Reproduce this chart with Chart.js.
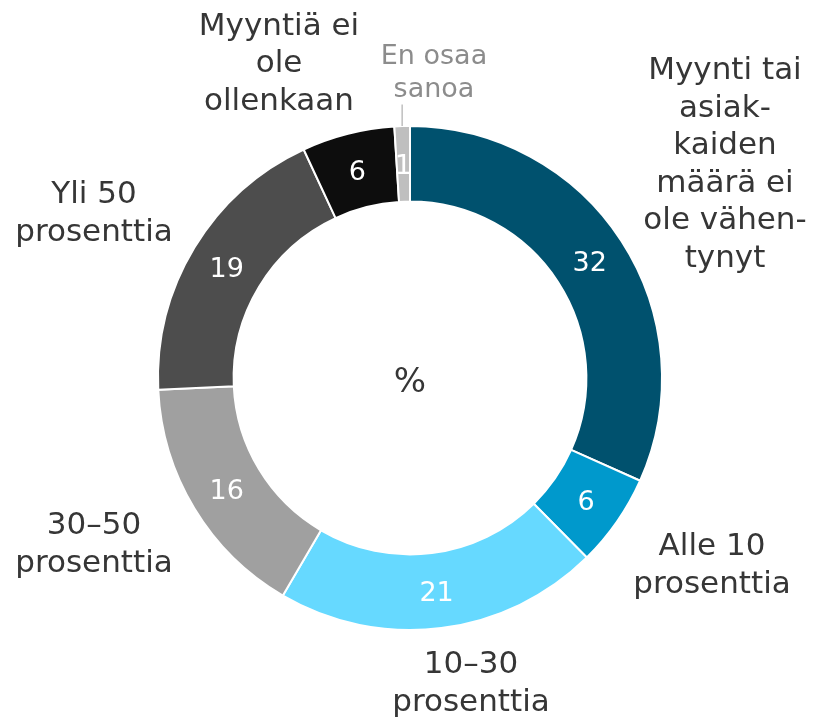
<!DOCTYPE html>
<html lang="fi">
<head>
<meta charset="utf-8">
<title>Myynnin muutos</title>
<script src="https://cdn.jsdelivr.net/npm/chart.js@4/dist/chart.umd.min.js"></script>
<style>
    html, body { margin: 0; padding: 0; background: #ffffff; }
    #wrap { width: 813px; height: 717px; }
</style>
</head>
<body>
<div id="wrap"><canvas id="salesDonut" width="813" height="717"></canvas></div>
<script>
// Data (percent)
const categories = [
    'Myynti tai asiakkaiden määrä ei ole vähentynyt',
    'Alle 10 prosenttia',
    '10–30 prosenttia',
    '30–50 prosenttia',
    'Yli 50 prosenttia',
    'Myyntiä ei ole ollenkaan',
    'En osaa sanoa'
];
const values = [32, 6, 21, 16, 19, 6, 1];
const labelLines = [
    ['Myynti tai', 'asiak-', 'kaiden', 'määrä ei', 'ole vähen-', 'tynyt'],
    ['Alle 10', 'prosenttia'],
    ['10–30', 'prosenttia'],
    ['30–50', 'prosenttia'],
    ['Yli 50', 'prosenttia'],
    ['Myyntiä ei', 'ole', 'ollenkaan'],
    ['En osaa', 'sanoa']
];
const centerLabel = '%';

// Styling
const sliceColors = ['#00516e', '#0099cc', '#66d9ff', '#a0a0a0', '#4d4d4d', '#0d0d0d', '#bfbfbf'];
const FONT = "'DejaVu Sans', Verdana, sans-serif";
// outer label placement: offset of the block's middle from the doughnut centre
const labelOffsets = [
    [315, -205], [302, 196], [61, 314], [-316, 175], [-316, -156], [-131, -306], [24, -298]
];

const outerLabels = {
    id: 'outerLabels',
    afterDatasetsDraw(chart) {
        const ctx = chart.ctx;
        const arcs = chart.getDatasetMeta(0).data;
        ctx.save();
        ctx.textAlign = 'center';
        ctx.textBaseline = 'alphabetic';

        arcs.forEach((arc, i) => {
            // value inside the ring
            const p = arc.tooltipPosition();
            ctx.fillStyle = '#ffffff';
            ctx.font = '27px ' + FONT;
            ctx.fillText(String(values[i]), p.x, p.y + 10);

            // category label outside
            const small = i === labelLines.length - 1;
            const lh = small ? 33 : 37.5;
            ctx.font = (small ? '27px ' : '31px ') + FONT;
            ctx.fillStyle = small ? '#8c8c8c' : '#363636';
            const lines = labelLines[i];
            const cx = arc.x + labelOffsets[i][0];
            const midY = arc.y + labelOffsets[i][1];
            const firstY = midY - (lines.length - 1) / 2 * lh;
            lines.forEach((t, k) => ctx.fillText(t, cx, firstY + k * lh));

            if (small) {
                // leader line to the thin slice
                const mid = (arc.startAngle + arc.endAngle) / 2;
                const ex = arc.x + Math.cos(mid) * arc.outerRadius;
                const ey = arc.y + Math.sin(mid) * arc.outerRadius;
                ctx.strokeStyle = '#bfbfbf';
                ctx.lineWidth = 1.5;
                ctx.beginPath();
                ctx.moveTo(ex, firstY + (lines.length - 1) * lh + 8);
                ctx.lineTo(ex, ey);
                ctx.stroke();
            }
        });

        // centre label
        const a0 = arcs[0];
        ctx.fillStyle = '#363636';
        ctx.font = '34px ' + FONT;
        ctx.fillText(centerLabel, a0.x, a0.y + 14);
        ctx.restore();
    }
};

new Chart(document.getElementById('salesDonut'), {
    type: 'doughnut',
    data: {
        labels: categories,
        datasets: [{
            data: values,
            backgroundColor: sliceColors,
            borderColor: '#ffffff',
            borderWidth: 2,
            hoverOffset: 0
        }]
    },
    options: {
        responsive: false,
        animation: false,
        cutout: '70%',
        layout: { padding: { left: 157, right: 150, top: 125, bottom: 86 } },
        plugins: {
            legend: { display: false },
            tooltip: { enabled: false }
        }
    },
    plugins: [outerLabels]
});
</script>
</body>
</html>
